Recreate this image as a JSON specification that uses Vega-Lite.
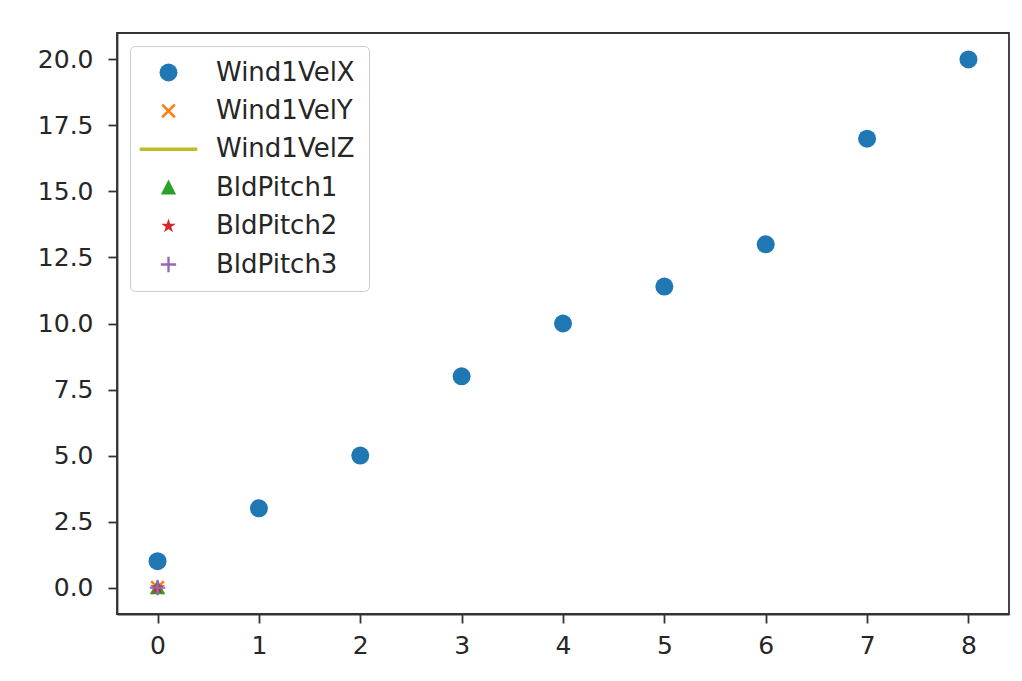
{
  "$schema": "https://vega.github.io/schema/vega-lite/v6.json",
  "autosize": {"type": "none"},
  "width": 892,
  "height": 581,
  "padding": {"left": 117, "top": 33, "right": 13, "bottom": 67},
  "background": "white",
  "config": {
    "view": {"stroke": "#333333", "strokeWidth": 1.8},
    "axis": {
      "grid": false,
      "title": null,
      "domainColor": "#333333",
      "domainWidth": 1.8,
      "tickColor": "#333333",
      "tickWidth": 1.8,
      "tickSize": 9,
      "labelFont": "DejaVu Sans",
      "labelFontSize": 25,
      "labelColor": "#262626"
    }
  },
  "datasets": {
    "signals": [
      {"series": "Wind1VelX", "sample": 0, "value": 1},
      {"series": "Wind1VelX", "sample": 1, "value": 3},
      {"series": "Wind1VelX", "sample": 2, "value": 5},
      {"series": "Wind1VelX", "sample": 3, "value": 8},
      {"series": "Wind1VelX", "sample": 4, "value": 10},
      {"series": "Wind1VelX", "sample": 5, "value": 11.4},
      {"series": "Wind1VelX", "sample": 6, "value": 13},
      {"series": "Wind1VelX", "sample": 7, "value": 17},
      {"series": "Wind1VelX", "sample": 8, "value": 20},
      {"series": "Wind1VelY", "sample": 0, "value": 0},
      {"series": "Wind1VelZ", "sample": 0, "value": 0},
      {"series": "BldPitch1", "sample": 0, "value": 0},
      {"series": "BldPitch2", "sample": 0, "value": 0},
      {"series": "BldPitch3", "sample": 0, "value": 0}
    ]
  },
  "data": {"name": "signals"},
  "encoding": {
    "x": {
      "field": "sample",
      "type": "quantitative",
      "scale": {"domain": [-0.4, 8.4], "nice": false, "zero": false},
      "axis": {"values": [0, 1, 2, 3, 4, 5, 6, 7, 8], "format": "d", "labelPadding": 10}
    },
    "y": {
      "field": "value",
      "type": "quantitative",
      "scale": {"domain": [-1, 21], "nice": false, "zero": false},
      "axis": {"values": [0, 2.5, 5, 7.5, 10, 12.5, 15, 17.5, 20], "format": ".1f", "labelPadding": 15}
    }
  },
  "layer": [
    {
      "transform": [{"filter": "datum.series === 'Wind1VelZ'"}],
      "mark": {"type": "line", "color": "#bcbd22", "strokeWidth": 3.6}
    },
    {
      "transform": [{"filter": "datum.series !== 'Wind1VelZ'"}],
      "mark": {"type": "point", "filled": true, "size": 324, "opacity": 1, "strokeWidth": 0},
      "encoding": {
        "color": {
          "field": "series",
          "type": "nominal",
          "scale": {
            "domain": ["Wind1VelX", "Wind1VelY", "Wind1VelZ", "BldPitch1", "BldPitch2", "BldPitch3"],
            "range": ["#1f77b4", "#ff7f0e", "#bcbd22", "#2ca02c", "#d62728", "#9467bd"]
          },
          "legend": {
            "title": null,
            "orient": "top-left",
            "offset": 13,
            "padding": 13.5,
            "fillColor": "rgba(255,255,255,0.8)",
            "strokeColor": "#cccccc",
            "cornerRadius": 5,
            "symbolSize": 324,
            "symbolStrokeWidth": 0,
            "symbolOffset": 12,
            "labelOffset": 34.5,
            "rowPadding": 12.4,
            "labelFont": "DejaVu Sans",
            "labelFontSize": 26,
            "labelColor": "#262626",
            "labelLimit": 400
          }
        },
        "shape": {
          "field": "series",
          "type": "nominal",
          "scale": {
            "domain": ["Wind1VelX", "Wind1VelY", "Wind1VelZ", "BldPitch1", "BldPitch2", "BldPitch3"],
            "range": [
              "circle",
              "M0.806,-0.608L0.198,0L0.806,0.608L0.608,0.806L0,0.198L-0.608,0.806L-0.806,0.608L-0.198,0L-0.806,-0.608L-0.608,-0.806L0,-0.198L0.608,-0.806Z",
              "M-3.2,-0.2L3.2,-0.2L3.2,0.2L-3.2,0.2Z",
              "M0,-0.9L0.85,0.75L-0.85,0.75Z",
              "M0,-0.85L0.19,-0.262L0.808,-0.263L0.308,0.1L0.5,0.688L0,0.324L-0.5,0.688L-0.308,0.1L-0.808,-0.263L-0.19,-0.262Z",
              "M0.13,-0.85L0.13,-0.13L0.85,-0.13L0.85,0.13L0.13,0.13L0.13,0.85L-0.13,0.85L-0.13,0.13L-0.85,0.13L-0.85,-0.13L-0.13,-0.13L-0.13,-0.85Z"
            ]
          }
        }
      }
    }
  ]
}
